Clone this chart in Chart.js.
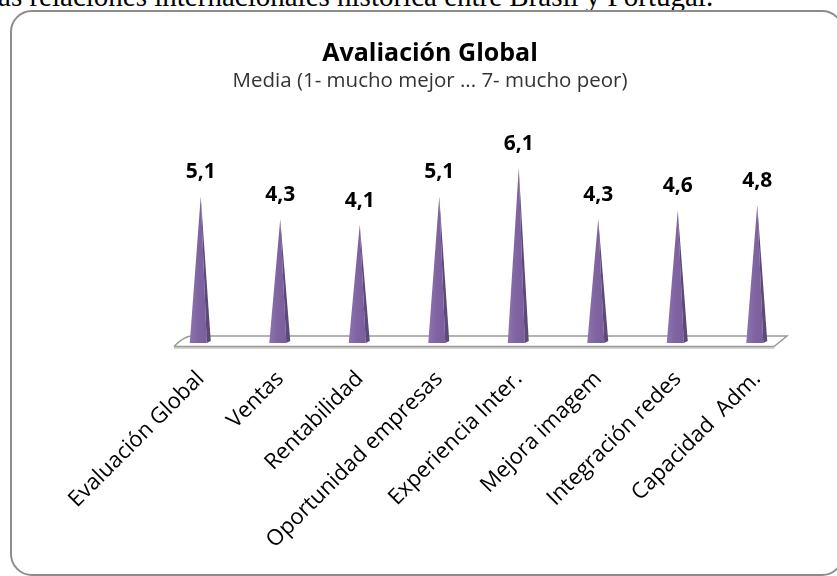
<!DOCTYPE html>
<html>
<head>
<meta charset="utf-8">
<script src="https://cdn.jsdelivr.net/npm/chart.js@4"></script>
<style>
  html, body { margin: 0; padding: 0; background: #fff; overflow: hidden; }
  #page { position: relative; width: 837px; height: 576px; overflow: hidden; }
  #caption { position: absolute; left: -10px; top: -20px; font: 29px "Liberation Serif", serif; color: #000; white-space: nowrap; }
  #frame { position: absolute; left: 10px; top: 10px; width: 830px; height: 562px; border: 2px solid #8c8c8c; border-radius: 22px; }
  #wrap { position: absolute; left: 0; top: 0; width: 837px; height: 576px; }
</style>
</head>
<body>
<div id="page">
  <div id="caption">las relaciones internacionales histórica entre Brasil y Portugal.</div>
  <div id="frame"></div>
  <div id="wrap"><canvas id="chart" width="837" height="576"></canvas></div>
</div>
<script>
const categorias = [
  "Evaluación Global",
  "Ventas",
  "Rentabilidad",
  "Oportunidad empresas",
  "Experiencia Inter.",
  "Mejora imagem",
  "Integración redes",
  "Capacidad  Adm."
];
const medias = [5.1, 4.3, 4.1, 5.1, 6.1, 4.3, 4.6, 4.8];

const titulo = "Avaliación Global";
const subtitulo = "Media (1- mucho mejor ... 7- mucho peor)";

const fmt = (v) => v.toFixed(1).replace(".", ",");

// piramides + suelo 3D dibujados sobre las posiciones de las barras
const piramides = {
  id: "piramides",
  beforeDatasetsDraw(chart) {
    const { ctx, chartArea } = chart;
    const base = chart.scales.y.getPixelForValue(0);
    const L = chartArea.left, R = chartArea.right;
    ctx.save();
    // suelo
    ctx.strokeStyle = "#d4d4d4";
    ctx.lineWidth = 2;
    ctx.beginPath();
    ctx.moveTo(L + 13, base + 7);
    ctx.lineTo(R - 23, base + 7);
    ctx.stroke();
    ctx.strokeStyle = "#9a9a9a";
    ctx.lineWidth = 1.5;
    ctx.beginPath();
    ctx.moveTo(L + 13, base + 5.5);
    ctx.quadraticCurveTo(L + 22, base - 4, L + 30, base - 5);
    ctx.lineTo(R - 10, base - 5);
    ctx.lineTo(R - 23, base + 5.5);
    ctx.lineTo(L + 13, base + 5.5);
    ctx.stroke();
    ctx.restore();
  },
  afterDatasetsDraw(chart) {
    const { ctx } = chart;
    const meta = chart.getDatasetMeta(0);
    ctx.save();
    meta.data.forEach((bar, i) => {
      const x = bar.x, top = bar.y, b = bar.base + 2;
      const g = ctx.createLinearGradient(x - 11, 0, x + 6, 0);
      g.addColorStop(0, "#8c73b0");
      g.addColorStop(0.5, "#8064a2");
      g.addColorStop(1, "#7a5f9c");
      ctx.fillStyle = g;
      ctx.beginPath();
      ctx.moveTo(x - 11, b);
      ctx.lineTo(x, top);
      ctx.lineTo(x + 6, b);
      ctx.closePath();
      ctx.fill();
      ctx.fillStyle = "#5c4879";
      ctx.beginPath();
      ctx.moveTo(x + 6, b);
      ctx.lineTo(x, top);
      ctx.lineTo(x + 10, b - 2);
      ctx.closePath();
      ctx.fill();

      ctx.fillStyle = "#000";
      ctx.font = "bold 21px 'Open Sans'";
      ctx.textAlign = "center";
      ctx.textBaseline = "middle";
      ctx.fillText(fmt(medias[i]), x, top - 24);
    });
    ctx.restore();
  }
};

new Chart(document.getElementById("chart").getContext("2d"), {
  type: "bar",
  data: {
    labels: categorias,
    datasets: [
      {
        label: "Media",
        data: medias,
        backgroundColor: "rgba(0,0,0,0)",
        borderWidth: 0
      }
    ]
  },
  options: {
    responsive: false,
    animation: false,
    events: [],
    layout: { padding: { left: 23, right: 0, bottom: 0 } },
    plugins: {
      legend: { display: false },
      tooltip: { enabled: false },
      title: {
        display: true,
        text: titulo,
        color: "#000",
        font: { family: "Open Sans", size: 25, weight: "bold" },
        padding: { top: 39, bottom: 0 }
      },
      subtitle: {
        display: true,
        text: subtitulo,
        color: "#333",
        font: { family: "Open Sans", size: 20.5 },
        padding: { bottom: 9 }
      }
    },
    scales: {
      x: {
        grid: { display: false, drawTicks: false },
        border: { display: false },
        ticks: {
          color: "#000",
          font: { family: "Open Sans", size: 22 },
          minRotation: 45,
          maxRotation: 45,
          autoSkip: false,
          padding: 25
        },
        afterFit(scale) {
          scale.height = 235;
        }
      },
      y: {
        position: "left",
        min: 0,
        max: 8.4,
        grid: { display: false, drawTicks: false },
        border: { display: false },
        ticks: { display: false },
        afterFit(scale) {
          scale.width = 138;
        }
      },
      derecha: {
        position: "right",
        grid: { display: false, drawTicks: false },
        border: { display: false },
        ticks: { display: false },
        afterFit(scale) {
          scale.width = 40;
        }
      }
    }
  },
  plugins: [piramides]
});
</script>
</body>
</html>
